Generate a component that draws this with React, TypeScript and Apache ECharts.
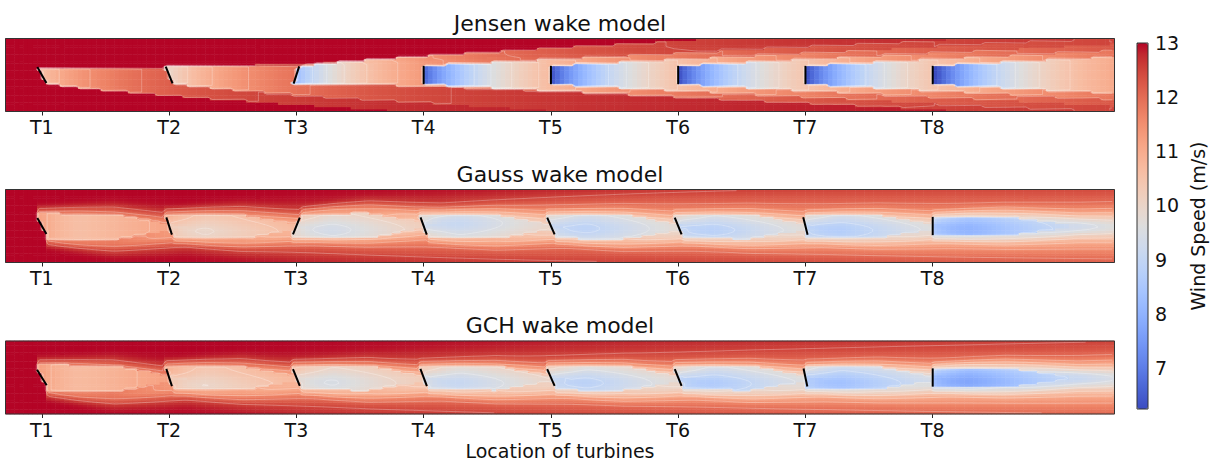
import React, { useEffect, useRef } from 'react';
import * as echarts from 'echarts';

// ---------------- data ----------------
const turbineLabels = ['T1', 'T2', 'T3', 'T4', 'T5', 'T6', 'T7', 'T8'];
const turbineX = [0, 7, 14, 21, 28, 35, 42, 49]; // downstream position, rotor diameters
const panelTitles = ['Jensen wake model', 'Gauss wake model', 'GCH wake model'];
const jensenYaw = [30, 22, -18, 0, 0, 0, 0, 0]; // deg
const gaussYaw = [30, 18, -22, 20, 24, 22, 14, 0];
const gchYaw = [32, 18, 22, 21, 24, 22, 12, 0];
const jensenDeficit = [2.4, 2.9, 4.6, 6.2, 6.3, 6.3, 6.3, 6.5]; // m/s, own wake deficit behind rotor
const gaussDeficit = [2.6, 2.75, 3.2, 3.25, 3.35, 3.25, 3.35, 4.25];
const gchDeficit = [2.5, 2.75, 3.1, 3.25, 3.35, 3.5, 3.75, 4.45];
const contourLevels = [9, 9.5, 10, 10.5, 11, 11.5, 12, 12.5];
const colorbarTicks = [7, 8, 9, 10, 11, 12, 13];
const freeStream = 13;
const speedRange = [6.24, 13];
const xExtent = [-2, 59];
const yExtent = [-2, 2];
const axisTitle = 'Location of turbines';
const colorbarTitle = 'Wind Speed (m/s)';

const coolwarm = [
  '#3b4cc0', '#445acc', '#4d68d7', '#5775e1', '#6282ea', '#6c8ef1', '#779af7', '#82a5fb',
  '#8db0fe', '#98b9ff', '#a3c2ff', '#aec9fd', '#b8d0f9', '#c2d5f4', '#ccd9ee', '#d5dbe6',
  '#dddddd', '#e5d8d1', '#ecd3c5', '#f1ccb9', '#f5c4ad', '#f7bba0', '#f7b194', '#f7a687',
  '#f49a7b', '#f18d6f', '#ec7f63', '#e57058', '#de604d', '#d55042', '#cb3e38', '#c0282f', '#b40426',
];

// ---------------- wake-field model built from the arrays above ----------------
const NX = 244;
const NY = 32;
const DX = (xExtent[1] - xExtent[0]) / NX;
const DY = (yExtent[1] - yExtent[0]) / NY;
const clamp = (v: number, a: number, b: number) => Math.max(a, Math.min(b, v));

function deflect(dx: number, yawDeg: number, coef: number) {
  const th = coef * Math.sin((yawDeg * Math.PI) / 180);
  const kd = 0.05;
  return (-th / (2 * kd)) * (1 - 1 / (1 + 2 * kd * dx));
}
function behindRotor(x: number, y: number, X: number, g: number) {
  const c = Math.cos(g);
  const yl = clamp(y, -0.5 * c, 0.5 * c);
  return x >= X - yl * Math.tan(g);
}
function jensenTurbine(x: number, y: number, i: number) {
  const X = turbineX[i];
  const g = (jensenYaw[i] * Math.PI) / 180;
  if (!behindRotor(x, y, X, g)) return 0;
  const dx = Math.max(0, x - X);
  const r = 0.5 * Math.cos(g) + 0.05 * dx;
  const yc = deflect(dx, jensenYaw[i], 0.17);
  if (Math.abs(y - yc) > r) return 0;
  return jensenDeficit[i] * Math.pow(0.5 / (0.5 + 0.05 * dx), 2);
}
function gaussTurbine(x: number, y: number, i: number, yaws: number[], amps: number[], skirtDefl: number) {
  const X = turbineX[i];
  const g = (yaws[i] * Math.PI) / 180;
  if (!behindRotor(x, y, X, g)) return 0;
  const dx = Math.max(0, x - X);
  const fade = clamp((dx - 4) / 4, 0, 1);
  const rc = (0.55 + 0.3 * Math.abs(Math.sin(g))) * (1 - fade);
  const jump = 0.55 + 0.45 * fade;
  const sig = 0.22 + 0.04 * dx;
  const ycC = deflect(dx, yaws[i], 0.03);
  const ycS = deflect(dx, yaws[i], skirtDefl);
  const core = Math.abs(y - ycC) <= rc ? 1 : 0;
  const e = Math.max(0, Math.abs(y - ycS) - rc);
  const skirt = jump * Math.exp(-0.5 * Math.pow(e / sig, 2));
  const f = (0.72 + 0.28 * (1 - Math.exp(-dx / 1.5))) / Math.pow(1 + 0.035 * Math.max(0, dx - 2), 2);
  return amps[i] * f * Math.max(core, skirt);
}
function buildGrid(model: number) {
  const vals = new Array(NX * NY);
  for (let ix = 0; ix < NX; ix++) {
    const x = xExtent[0] + (ix + 0.5) * DX;
    for (let iy = 0; iy < NY; iy++) {
      const y = yExtent[0] + (iy + 0.5) * DY;
      let s = 0;
      for (let i = 0; i < turbineX.length; i++) {
        let d = 0;
        if (model === 0) d = jensenTurbine(x, y, i);
        else if (model === 1) d = gaussTurbine(x, y, i, gaussYaw, gaussDeficit, 0.12);
        else d = gaussTurbine(x, y, i, gchYaw, gchDeficit, 0.16);
        s += d * d;
      }
      vals[ix * NY + iy] = clamp(freeStream - Math.sqrt(s), speedRange[0], speedRange[1]);
    }
  }
  return vals as number[];
}
const fields = [0, 1, 2].map(buildGrid);

// marching squares over cell centres -> segments in data coordinates
function contourSegments(vals: number[], level: number) {
  const seg: number[] = [];
  const v = (ix: number, iy: number) => vals[ix * NY + iy];
  for (let ix = 0; ix < NX - 1; ix++) {
    const x0 = xExtent[0] + (ix + 0.5) * DX;
    for (let iy = 0; iy < NY - 1; iy++) {
      const y0 = yExtent[0] + (iy + 0.5) * DY;
      const a = v(ix, iy), b = v(ix + 1, iy), c = v(ix + 1, iy + 1), d = v(ix, iy + 1);
      const A = a > level, B = b > level, C = c > level, Dd = d > level;
      if (A === B && B === C && C === Dd) continue;
      const pt: Record<string, number[]> = {};
      if (A !== B) pt.b = [x0 + ((level - a) / (b - a)) * DX, y0];
      if (B !== C) pt.r = [x0 + DX, y0 + ((level - b) / (c - b)) * DY];
      if (Dd !== C) pt.t = [x0 + ((level - d) / (c - d)) * DX, y0 + DY];
      if (A !== Dd) pt.l = [x0, y0 + ((level - a) / (d - a)) * DY];
      const keys = Object.keys(pt);
      const push = (p: number[], q: number[]) => seg.push(p[0], p[1], q[0], q[1]);
      if (keys.length === 2) push(pt[keys[0]], pt[keys[1]]);
      else if (keys.length === 4) {
        const centre = (a + b + c + d) / 4 > level;
        if (A !== centre) push(pt.b, pt.l);
        if (B !== centre) push(pt.b, pt.r);
        if (C !== centre) push(pt.r, pt.t);
        if (Dd !== centre) push(pt.t, pt.l);
      }
    }
  }
  return seg;
}
const contours = fields.map((f) => contourLevels.map((lv) => contourSegments(f, lv)));

// ---------------- layout ----------------
const FONT = 'DejaVu Sans';
const PANEL = { left: 5.5, width: 1109, height: 73 };
const panelTops = [38.5, 189.5, 341];
const CBAR = { left: 1137, top: 43, width: 11, height: 366 };
const yawSets = [jensenYaw, gaussYaw, gchYaw];

function buildOption() {
  const xCats = Array.from({ length: NX }, (_, i) => String(i));
  const yCats = Array.from({ length: NY }, (_, i) => String(i));
  const grids: any[] = panelTops.map((t) => ({ left: PANEL.left, top: t, width: PANEL.width, height: PANEL.height }));
  grids.push({ left: CBAR.left, top: CBAR.top, width: CBAR.width, height: CBAR.height });
  const xAxes: any[] = [];
  const yAxes: any[] = [];
  const series: any[] = [];
  const labelStyle = { fontSize: 19, fontFamily: FONT, color: '#111' };
  panelTops.forEach((_, p) => {
    xAxes.push({ type: 'category', gridIndex: p, data: xCats, show: false, position: 'top' });
    xAxes.push({
      type: 'value', gridIndex: p, min: xExtent[0], max: xExtent[1], position: 'bottom',
      axisLine: { show: false }, splitLine: { show: false },
      axisTick: { show: true, customValues: turbineX, length: 4, lineStyle: { color: '#222', width: 1 } },
      axisLabel: {
        customValues: turbineX, margin: 6, ...labelStyle,
        formatter: (v: number) => turbineLabels[turbineX.indexOf(Math.round(v))] ?? '',
      },
      name: p === 2 ? axisTitle : '', nameLocation: 'middle', nameGap: 27,
      nameTextStyle: labelStyle,
    });
    yAxes.push({ type: 'category', gridIndex: p, data: yCats, show: false, position: 'right' });
    yAxes.push({ type: 'value', gridIndex: p, min: yExtent[0], max: yExtent[1], show: false, position: 'left' });
  });
  xAxes.push({ type: 'value', gridIndex: 3, min: 0, max: 1, show: false });
  yAxes.push({
    type: 'value', gridIndex: 3, position: 'right', min: speedRange[0], max: speedRange[1],
    axisLine: { show: false }, splitLine: { show: false },
    axisTick: { show: true, customValues: colorbarTicks, length: 4, lineStyle: { color: '#222', width: 1 } },
    axisLabel: { customValues: colorbarTicks, margin: 7, ...labelStyle },
    name: colorbarTitle, nameLocation: 'middle', nameRotate: 90, nameGap: 40, nameTextStyle: labelStyle,
  });
  panelTops.forEach((_, p) => {
    const data: number[][] = [];
    for (let ix = 0; ix < NX; ix++) for (let iy = 0; iy < NY; iy++) data.push([ix, iy, +fields[p][ix * NY + iy].toFixed(3)]);
    series.push({
      type: 'heatmap', xAxisIndex: 2 * p, yAxisIndex: 2 * p, data,
      progressive: 0, silent: true, emphasis: { disabled: true },
    });
  });
  panelTops.forEach((_, p) => {
    series.push({
      type: 'custom', xAxisIndex: 2 * p + 1, yAxisIndex: 2 * p + 1, silent: true, z: 4,
      data: [[xExtent[0], yExtent[0]]], encode: { x: 0, y: 1 }, clip: true,
      renderItem: (_params: any, api: any) => {
        const p0 = api.coord([xExtent[0], yExtent[0]]);
        const p1 = api.coord([xExtent[1], yExtent[1]]);
        const sx = (p1[0] - p0[0]) / (xExtent[1] - xExtent[0]);
        const sy = (p1[1] - p0[1]) / (yExtent[1] - yExtent[0]);
        const children = contours[p].map((seg) => {
          let d = '';
          for (let k = 0; k < seg.length; k += 4) {
            const ax = p0[0] + (seg[k] - xExtent[0]) * sx, ay = p0[1] + (seg[k + 1] - yExtent[0]) * sy;
            const bx = p0[0] + (seg[k + 2] - xExtent[0]) * sx, by = p0[1] + (seg[k + 3] - yExtent[0]) * sy;
            d += `M${ax.toFixed(1)} ${ay.toFixed(1)}L${bx.toFixed(1)} ${by.toFixed(1)}`;
          }
          return { type: 'path', shape: { pathData: d || 'M0 0' }, style: { fill: 'none', stroke: 'rgba(255,255,255,0.35)', lineWidth: 0.8 } };
        });
        return { type: 'group', children };
      },
    });
  });
  panelTops.forEach((_, p) => {
    series.push({
      type: 'custom', xAxisIndex: 2 * p + 1, yAxisIndex: 2 * p + 1, silent: true, z: 5,
      data: turbineX.map((x, k) => [x, 0, yawSets[p][k]]),
      encode: { x: 0, y: 1 },
      renderItem: (_params: any, api: any) => {
        const x = api.value(0);
        const g = (api.value(2) * Math.PI) / 180;
        const a = api.coord([x - 0.5 * Math.sin(g), 0.5 * Math.cos(g)]);
        const b = api.coord([x + 0.5 * Math.sin(g), -0.5 * Math.cos(g)]);
        return { type: 'line', shape: { x1: a[0], y1: a[1], x2: b[0], y2: b[1] }, style: { stroke: '#000', lineWidth: 2 } };
      },
    });
  });
  series.push({ type: 'scatter', xAxisIndex: 6, yAxisIndex: 6, data: [] });

  const graphic: any[] = [];
  panelTops.forEach((t, p) => {
    graphic.push({
      type: 'rect', z: 100, silent: true,
      shape: { x: PANEL.left, y: t, width: PANEL.width, height: PANEL.height },
      style: { fill: 'none', stroke: '#333', lineWidth: 1 },
    });
    graphic.push({
      type: 'text', z: 100, silent: true, x: PANEL.left + PANEL.width / 2, y: t - 15.2,
      style: { text: panelTitles[p], fontSize: 22, fontFamily: FONT, fill: '#111', align: 'center', verticalAlign: 'middle' },
    });
  });
  graphic.push({
    type: 'rect', z: 100, silent: true,
    shape: { x: CBAR.left, y: CBAR.top, width: CBAR.width, height: CBAR.height },
    style: { fill: 'none', stroke: '#333', lineWidth: 1 },
  });

  return {
    animation: false,
    backgroundColor: '#fff',
    grid: grids,
    xAxis: xAxes,
    yAxis: yAxes,
    visualMap: {
      type: 'continuous', min: speedRange[0], max: speedRange[1], seriesIndex: [0, 1, 2],
      calculable: false, show: true, orient: 'vertical', left: CBAR.left, top: CBAR.top,
      itemWidth: CBAR.width, itemHeight: CBAR.height, padding: 0, hoverLink: false,
      inRange: { color: coolwarm },
    },
    series,
    graphic,
  };
}

export default function App() {
  const ref = useRef<HTMLDivElement>(null);
  useEffect(() => {
    document.body.style.margin = '0';
    const chart = echarts.init(ref.current!, null, { renderer: 'svg' });
    chart.setOption(buildOption() as any);
    return () => chart.dispose();
  }, []);
  return <div ref={ref} style={{ width: 1212, height: 465 }} />;
}
